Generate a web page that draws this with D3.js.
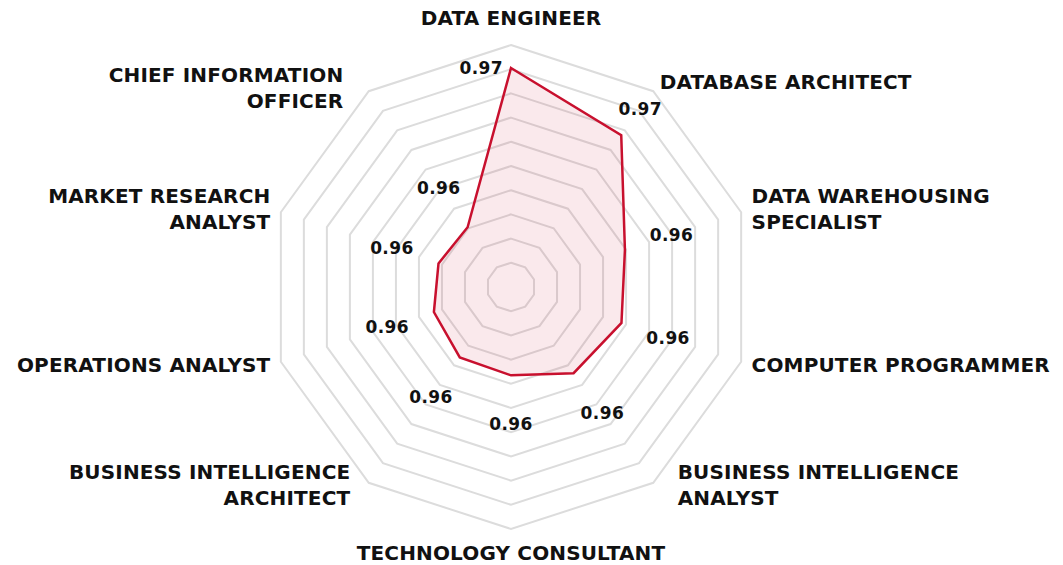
<!DOCTYPE html>
<html>
<head>
<meta charset="utf-8">
<script src="https://cdn.jsdelivr.net/npm/d3@7"></script>
<style>
	body { margin: 0; background: #ffffff; }
	.axisLabel { font-family: "DejaVu Sans", sans-serif; font-weight: bold; font-size: 20px; letter-spacing: 0.15px; fill: #111111; }
	.valueLabel { font-family: "DejaVu Sans", sans-serif; font-weight: bold; font-size: 17px; letter-spacing: 0.4px; fill: #111111; }
</style>
</head>
<body>
<svg id="chart" width="1063" height="565"></svg>
<script>
//radar chart of similarity scores per job role

var roles = [
	"DATA ENGINEER",
	"DATABASE ARCHITECT",
	"DATA WAREHOUSING|SPECIALIST",
	"COMPUTER PROGRAMMER",
	"BUSINESS INTELLIGENCE|ANALYST",
	"TECHNOLOGY CONSULTANT",
	"BUSINESS INTELLIGENCE|ARCHITECT",
	"OPERATIONS ANALYST",
	"MARKET RESEARCH|ANALYST",
	"CHIEF INFORMATION|OFFICER"
];

var scores = [0.9731, 0.9705, 0.9649, 0.9646, 0.9638, 0.9623, 0.9622, 0.9617, 0.9613, 0.9611];

var scoreDomain = [0.955, 0.975];

var CENTER_X = 511;
var CENTER_Y = 287;
var RADIUS = 242;
var GRID_LEVELS = 10;
var LABEL_RADIUS = 253;
var LINE_HEIGHT = 26;
var LINE_COLOR = "#c8102e";

var svg = d3.select("#chart");

var rScale = d3.scaleLinear()
	.domain(scoreDomain)
	.range([0, RADIUS]);

var angleStep = 2 * Math.PI / roles.length;

function point(i, r) {
	var a = i * angleStep;
	return [CENTER_X + Math.sin(a) * r, CENTER_Y - Math.cos(a) * r];
}

var chart = svg.append("g");

//grid polygons
var grid = chart.append("g");
d3.range(1, GRID_LEVELS + 1).forEach(function(level) {
	var r = RADIUS * level / GRID_LEVELS;
	grid.append("polygon")
		.attr("points", roles.map(function(d, i) { return point(i, r).join(","); }).join(" "))
		.attr("fill", "none")
		.attr("stroke", "#dcdcdc")
		.attr("stroke-width", 2);
});

//data shape
var line = d3.line().curve(d3.curveLinearClosed);
chart.append("path")
	.attr("d", line(scores.map(function(d, i) { return point(i, rScale(d)); })))
	.attr("fill", LINE_COLOR)
	.attr("fill-opacity", 0.09)
	.attr("stroke", LINE_COLOR)
	.attr("stroke-width", 2.5)
	.attr("stroke-linejoin", "miter");

//value labels
chart.selectAll(".valueLabel")
	.data(scores)
	.enter()
	.append("text")
	.attr("class", "valueLabel")
	.each(function(d, i) {
		var r = rScale(d);
		var lr = Math.min(r + 49, 220);
		var p = point(i, lr);
		var anchor = "middle";
		if (lr - r < 15) {
			//no room outside the vertex, put it beside
			p = point(i, r);
			p[0] = p[0] - 8;
			anchor = "end";
		}
		d3.select(this)
			.attr("x", p[0])
			.attr("y", p[1] + 6)
			.attr("text-anchor", anchor)
			.text(d3.format(".2f")(d));
	});

//axis labels
chart.selectAll(".axisLabel")
	.data(roles)
	.enter()
	.append("text")
	.attr("class", "axisLabel")
	.each(function(d, i) {
		var a = i * angleStep;
		var s = Math.sin(a), c = Math.cos(a);
		var p = point(i, LABEL_RADIUS);
		var lines = d.split("|");
		var anchor = s > 0.05 ? "start" : (s < -0.05 ? "end" : "middle");
		var x = p[0];
		var blockMid = p[1];
		if (lines.length > 1 && Math.abs(c) > 0.5) {
			//diagonal two-line labels sit a bit further out
			x += (s > 0 ? 18 : -(c > 0 ? 19 : 12));
			blockMid += (c > 0 ? 6 : -7);
		}
		var firstBaseline;
		if (c > 0.95) {
			firstBaseline = p[1] - 9 - (lines.length - 1) * LINE_HEIGHT;
		} else if (c < -0.95) {
			firstBaseline = p[1] + 20;
		} else {
			firstBaseline = blockMid + 7 - (lines.length - 1) * LINE_HEIGHT / 2;
		}
		var t = d3.select(this).attr("text-anchor", anchor);
		lines.forEach(function(l, k) {
			t.append("tspan")
				.attr("x", x)
				.attr("y", firstBaseline + k * LINE_HEIGHT)
				.text(l);
		});
	});
</script>
</body>
</html>
